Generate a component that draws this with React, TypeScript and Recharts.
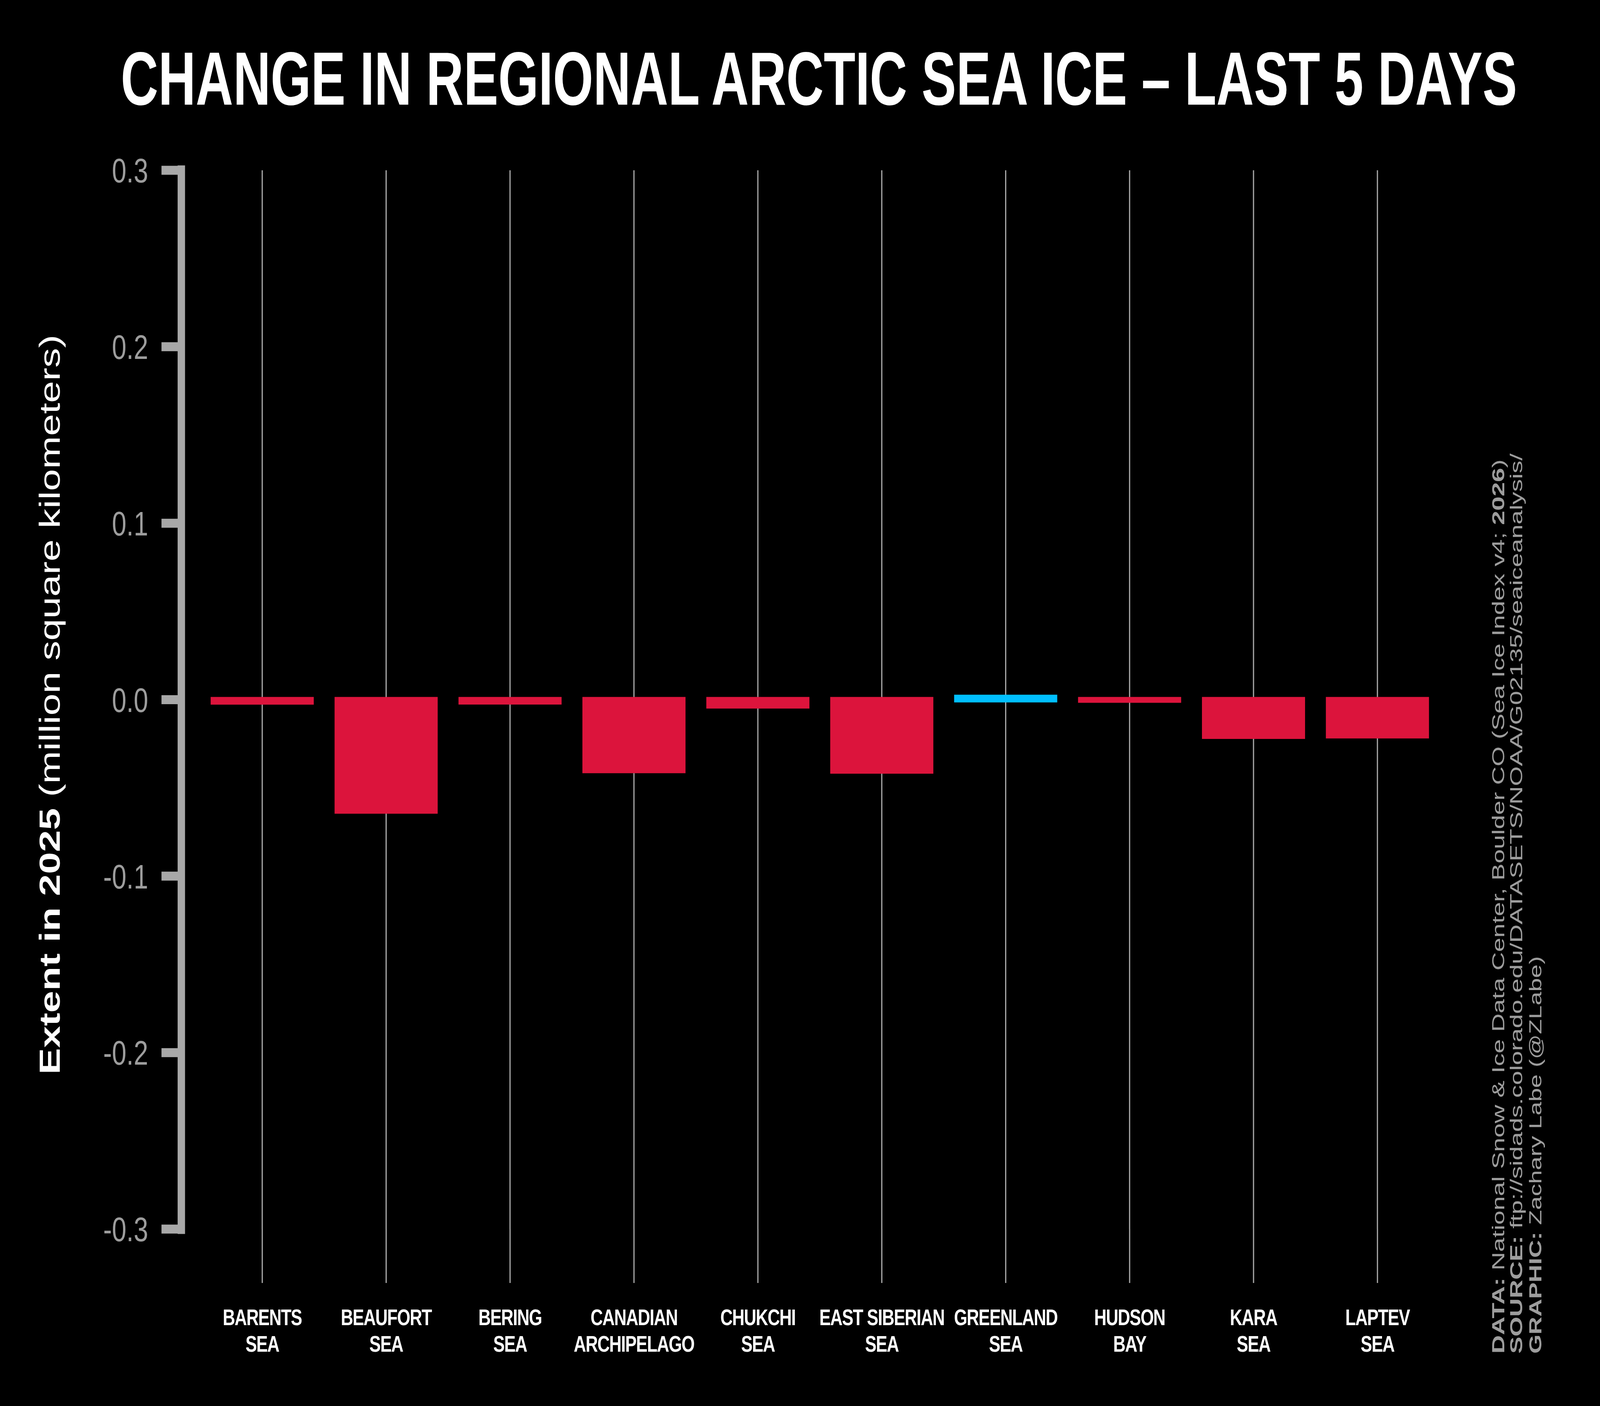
import { Bar, BarChart, Cell, XAxis, YAxis } from "recharts";

const regionTop = ["BARENTS", "BEAUFORT", "BERING", "CANADIAN", "CHUKCHI", "EAST SIBERIAN", "GREENLAND", "HUDSON", "KARA", "LAPTEV"];
const regionBottom = ["SEA", "SEA", "SEA", "ARCHIPELAGO", "SEA", "SEA", "SEA", "BAY", "SEA", "SEA"];
const change = [-0.0013, -0.0631, -0.0012, -0.0401, -0.0035, -0.0404, 0.0013, -0.0002, -0.0207, -0.0204];
const yTicks = [0.3, 0.2, 0.1, 0.0, -0.1, -0.2, -0.3];

const data = regionTop.map((r, i) => ({ region: `${r} ${regionBottom[i]}`, value: change[i] }));

const W = 5400;
const H = 3600;
const RED = "#DC143C";
const BLUE = "#00BFFF";
const GRID = "#a9a9a9";
const AXIS = "#a8a8a8";
const LABEL = "#9d9d9d";
const FONT = "'Liberation Sans', Arial, sans-serif";

function RegionTick(props: any) {
  const { x, y, index } = props;
  return (
    <text x={x} y={y} textAnchor="middle" fill="#ffffff" fontFamily={FONT} fontWeight="bold" fontSize={58} letterSpacing={-2}>
      <tspan x={x} dy={108}>{regionTop[index]}</tspan>
      <tspan x={x} dy={68}>{regionBottom[index]}</tspan>
    </text>
  );
}

// thin vertical line through the middle of each category
function GridLine(props: any) {
  const { x, y, width, height } = props;
  const cx = x + width / 2;
  return <line x1={cx} x2={cx} y1={y} y2={y + height} stroke={GRID} strokeWidth={4} />;
}

export default function App() {
  // the real viewport can be narrower than 5400 css px; stretch the 5400x3600 drawing over it
  const vw = typeof window !== "undefined" ? window.innerWidth : W;
  const vh = typeof window !== "undefined" ? window.innerHeight : H;
  const kx = Math.min(vw / W, 1);
  const ky = Math.min(vh / H, 1);
  return (
    <div style={{ position: "absolute", left: 0, top: 0, width: W * kx, height: H * ky, overflow: "hidden", background: "#000" }}>
      <div style={{ position: "absolute", left: 0, top: 0, width: W, height: H, transform: `scale(${kx}, ${ky})`, transformOrigin: "0 0" }}>
        <BarChart width={W} height={H} data={data} margin={{ top: 436, right: 542, bottom: 153, left: 312 }} barCategoryGap={42}>
          <XAxis
            dataKey="region"
            interval={0}
            axisLine={false}
            tickLine={{ stroke: GRID, strokeWidth: 4 }}
            tickSize={138}
            tickMargin={0}
            height={300}
            padding={{ left: 64, right: 0 }}
            tick={<RegionTick />}
          />
          <YAxis
            type="number"
            domain={[-0.3, 0.3]}
            ticks={yTicks}
            interval={0}
            width={300}
            axisLine={{ stroke: AXIS, strokeWidth: 25, strokeLinecap: "square" }}
            tickLine={{ stroke: AXIS, strokeWidth: 23 }}
            tickSize={67}
            tickMargin={45}
            tick={{ fill: LABEL, fontSize: 88, fontFamily: FONT }}
            tickFormatter={(v: number) => (Math.abs(v) < 1e-9 ? "0.0" : v.toFixed(1))}
          />
          <Bar dataKey="value" isAnimationActive={false} strokeWidth={14} background={<GridLine />}>
            {data.map((d, i) => (
              <Cell key={i} fill={d.value >= 0 ? BLUE : RED} stroke={d.value >= 0 ? BLUE : RED} />
            ))}
          </Bar>
        </BarChart>
        <svg width={W} height={H} style={{ position: "absolute", left: 0, top: 0, pointerEvents: "none" }}>
          <text transform="translate(2764,268) scale(1,1.1)" x={0} y={0} textAnchor="middle" fill="#ffffff" fontFamily={FONT} fontWeight="bold" fontSize={175}>
            CHANGE IN REGIONAL ARCTIC SEA ICE – LAST 5 DAYS
          </text>
          <text transform="translate(202,1804) rotate(-90)" textAnchor="middle" fill="#ffffff" fontFamily={FONT} fontSize={98} textLength={1894} lengthAdjust="spacingAndGlyphs">
            <tspan fontWeight="bold">Extent in 2025</tspan>
            <tspan> (million square kilometers)</tspan>
          </text>
          <g fill={LABEL} fontFamily={FONT} fontSize={58}>
            <text transform="translate(5077,3466) rotate(-90)" textLength={2290} lengthAdjust="spacingAndGlyphs">
              <tspan fontWeight="bold">DATA:</tspan>
              <tspan> National Snow &amp; Ice Data Center, Boulder CO (Sea Ice Index v4; </tspan>
              <tspan fontWeight="bold">2026</tspan>
              <tspan>)</tspan>
            </text>
            <text transform="translate(5138,3466) rotate(-90)" textLength={2305} lengthAdjust="spacingAndGlyphs">
              <tspan fontWeight="bold">SOURCE:</tspan>
              <tspan> ftp://sidads.colorado.edu/DATASETS/NOAA/G02135/seaiceanalysis/</tspan>
            </text>
            <text transform="translate(5202,3466) rotate(-90)" textLength={1018} lengthAdjust="spacingAndGlyphs">
              <tspan fontWeight="bold">GRAPHIC:</tspan>
              <tspan> Zachary Labe (@ZLabe)</tspan>
            </text>
          </g>
        </svg>
      </div>
    </div>
  );
}
